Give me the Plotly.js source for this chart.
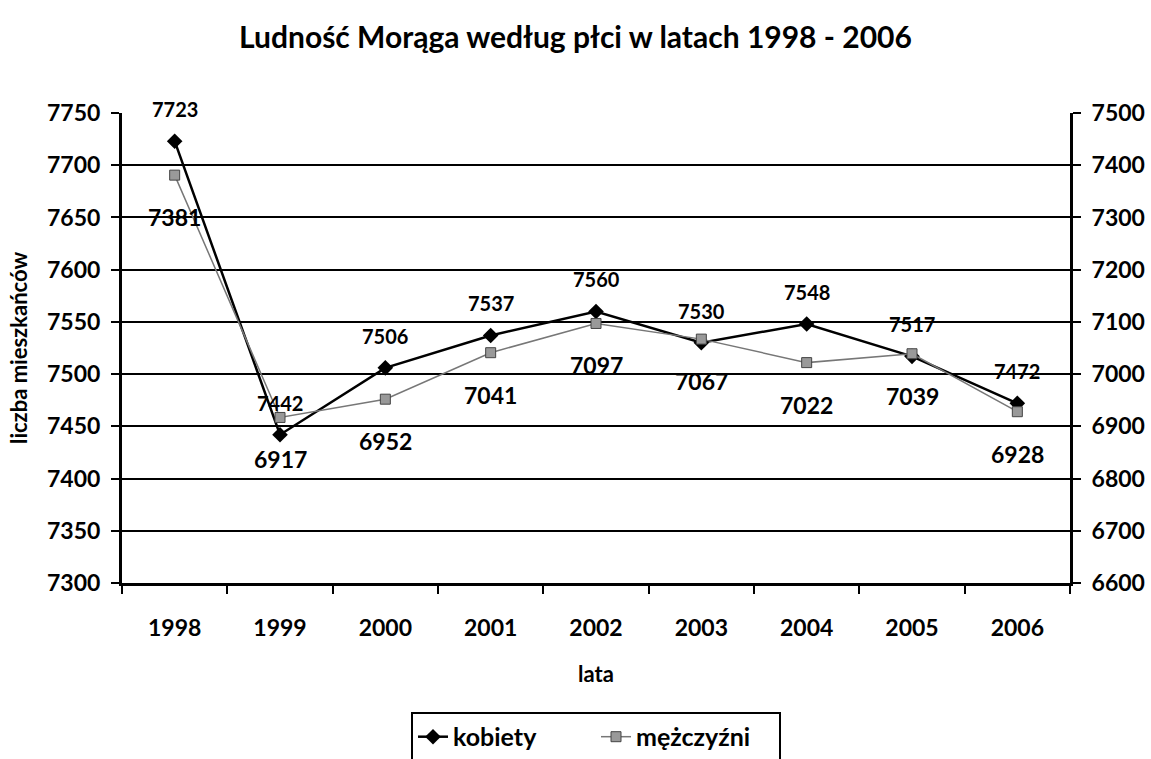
<!DOCTYPE html>
<html>
<head>
<meta charset="utf-8">
<script src="https://cdn.plot.ly/plotly-3.0.1.min.js"></script>
<style>
  body { margin: 0; background: #fff; }
  #plot { width: 1151px; height: 759px; }
</style>
</head>
<body>
<div id="plot"></div>
<script>
// data
var years = ["1998", "1999", "2000", "2001", "2002", "2003", "2004", "2005", "2006"];
var kobiety = [7723, 7442, 7506, 7537, 7560, 7530, 7548, 7517, 7472];
var mezczyzni = [7381, 6917, 6952, 7041, 7097, 7067, 7022, 7039, 6928];

var font = "Lato, 'Open Sans', sans-serif";

var trace1 = {
  x: years,
  y: kobiety,
  mode: "lines+markers",
  type: "scatter",
  name: "kobiety",
  yaxis: "y",
  line: { color: "#000", width: 2.5 },
  marker: { color: "#000", symbol: "diamond", size: 12 }
};

var trace2 = {
  x: years,
  y: mezczyzni,
  mode: "lines+markers",
  type: "scatter",
  name: "mężczyźni",
  yaxis: "y2",
  line: { color: "#777", width: 1.5 },
  marker: { color: "#999", symbol: "square", size: 10, line: { color: "#444", width: 1 } }
};

// value labels: women above the point, men below (x given as category index)
var annotations = [];
years.forEach(function (yr, i) {
  annotations.push({
    x: i, y: kobiety[i], xref: "x", yref: "y",
    text: String(kobiety[i]), showarrow: false, yshift: 32,
    font: { family: font, size: 20, color: "#000", weight: "bold" }
  });
  annotations.push({
    x: i, y: mezczyzni[i], xref: "x", yref: "y2",
    text: String(mezczyzni[i]), showarrow: false, yshift: -42,
    font: { family: font, size: 23, color: "#000", weight: "bold" }
  });
});

var layout = {
  width: 1151,
  height: 759,
  margin: { l: 122, r: 81, t: 113, b: 176 },
  paper_bgcolor: "#fff",
  plot_bgcolor: "#fff",
  font: { family: font, color: "#000", weight: "bold" },
  title: {
    text: "Ludność Morąga według płci w latach 1998 - 2006",
    font: { family: font, size: 30, weight: "bold" },
    x: 0.5, xanchor: "center", y: 0.95, yanchor: "middle"
  },
  xaxis: {
    type: "category",
    range: [-0.5, years.length - 0.5],
    automargin: false,
    title: { text: "lata", font: { size: 22, weight: "bold" }, standoff: 28 },
    tickfont: { size: 23, weight: "bold" },
    tickangle: 0,
    ticklabelstandoff: 22,
    tickson: "boundaries",
    ticks: "outside", ticklen: 8, tickwidth: 2, tickcolor: "#000",
    showline: true, linecolor: "#000", linewidth: 3,
    showgrid: false, zeroline: false
  },
  yaxis: {
    range: [7300, 7750],
    dtick: 50,
    automargin: false,
    title: { text: "liczba mieszkańców", font: { size: 22, weight: "bold" }, standoff: 14 },
    tickfont: { size: 23, weight: "bold" },
    ticklabelstandoff: 6,
    ticks: "outside", ticklen: 8, tickwidth: 2, tickcolor: "#000",
    showline: true, linecolor: "#000", linewidth: 3,
    showgrid: true, gridcolor: "#000", gridwidth: 2,
    zeroline: false
  },
  yaxis2: {
    range: [6600, 7500],
    dtick: 100,
    automargin: false,
    overlaying: "y",
    side: "right",
    tickfont: { size: 23, weight: "bold" },
    ticklabelstandoff: 6,
    ticks: "outside", ticklen: 8, tickwidth: 2, tickcolor: "#000",
    showline: true, linecolor: "#000", linewidth: 3,
    showgrid: false, zeroline: false
  },
  legend: {
    orientation: "h",
    x: 0.5, xanchor: "center",
    yref: "container",
    y: 0.062, yanchor: "top",
    entrywidth: 138,
    bordercolor: "#000", borderwidth: 2,
    font: { size: 25, weight: "bold" }
  },
  annotations: annotations
};

Plotly.newPlot("plot", [trace1, trace2], layout, { displayModeBar: false });
</script>
</body>
</html>
